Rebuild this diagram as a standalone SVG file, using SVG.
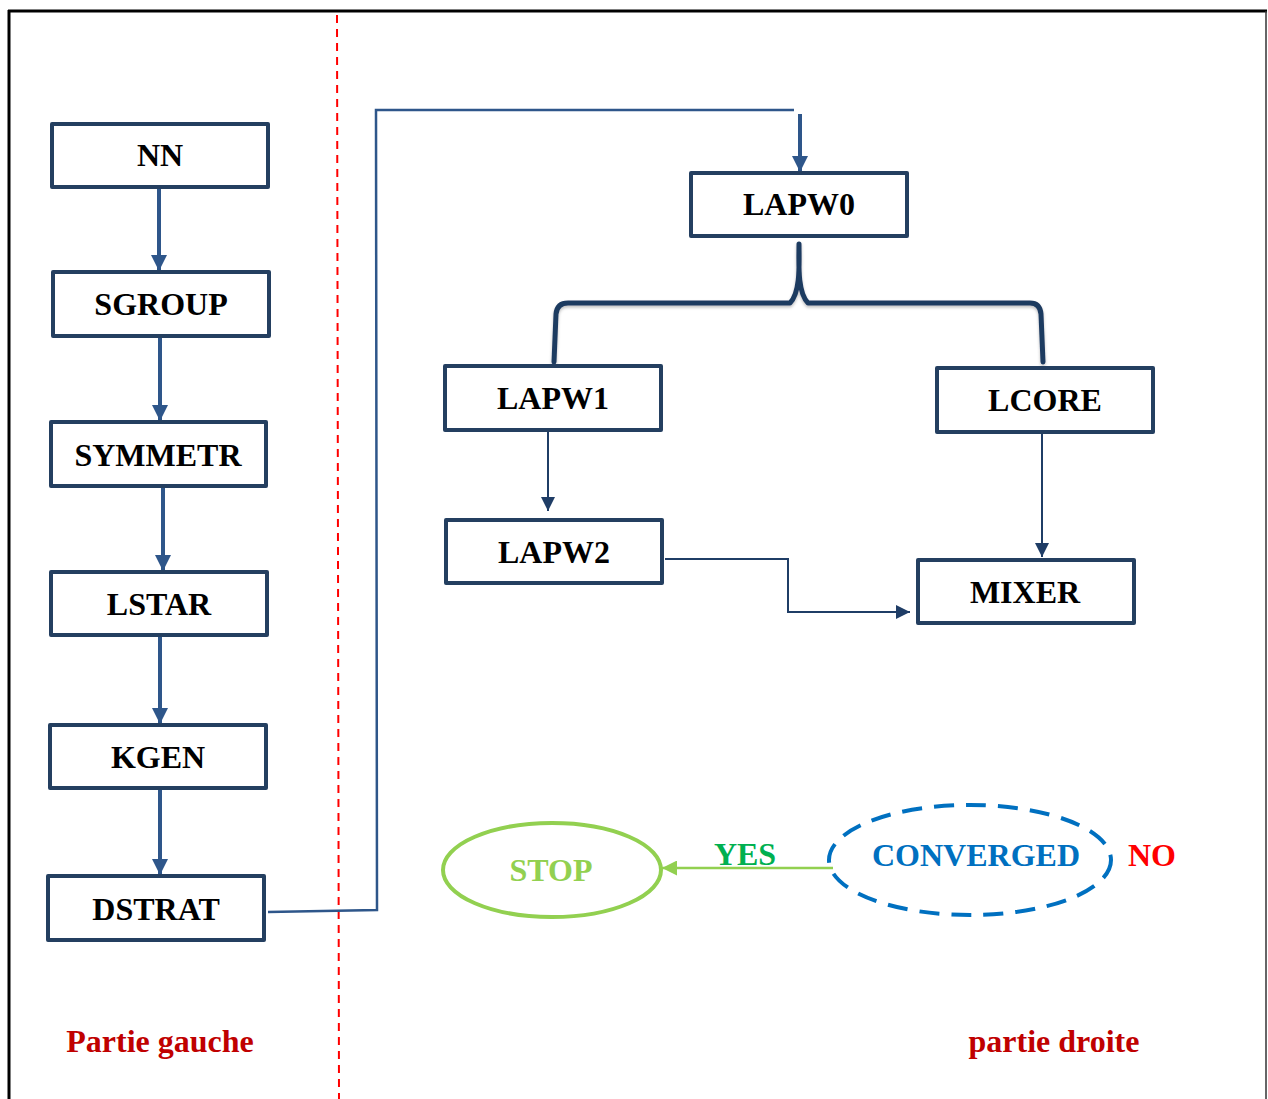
<svg xmlns="http://www.w3.org/2000/svg" width="1268" height="1099" viewBox="0 0 1268 1099">
<style>
.box{fill:#fff;stroke:#243F60;stroke-width:4;stroke-linejoin:round}
.lbl{font-family:"Liberation Serif","Times New Roman",serif;font-weight:bold;font-size:32px;text-anchor:middle;fill:#000}
.thick{stroke:#2E568A;stroke-width:4;fill:none}
.thin{stroke:#1F3D66;stroke-width:2;fill:none}
</style>
<defs>
<marker id="ah" viewBox="0 0 10 10" refX="10" refY="5" markerWidth="4" markerHeight="4" orient="auto" markerUnits="strokeWidth"><path d="M0,0 L10,5 L0,10 z" fill="#2E568A"/></marker>
<marker id="aht" viewBox="0 0 10 10" refX="10" refY="5" markerWidth="7" markerHeight="7" orient="auto" markerUnits="strokeWidth"><path d="M0,0 L10,5 L0,10 z" fill="#1F3D66"/></marker>
<marker id="ahg" viewBox="0 0 10 10" refX="10" refY="5" markerWidth="6" markerHeight="6" orient="auto" markerUnits="strokeWidth"><path d="M0,0 L10,5 L0,10 z" fill="#92D050"/></marker>
<filter id="sh" x="-10%" y="-10%" width="120%" height="140%"><feDropShadow dx="0" dy="2" stdDeviation="1.5" flood-color="#000" flood-opacity="0.25"/></filter>
</defs>
<rect width="1268" height="1099" fill="#fff"/>
<g id="frame">
<line x1="8" y1="11" x2="1267" y2="11" stroke="#000" stroke-width="3"/>
<line x1="9" y1="10" x2="9" y2="1099" stroke="#000" stroke-width="3"/>
<line x1="1266" y1="11" x2="1266" y2="1099" stroke="#333" stroke-width="1.5"/>
<line x1="337" y1="15" x2="339" y2="1099" stroke="#FF0000" stroke-width="2" stroke-dasharray="8,6"/>
</g>
<g id="connectors">
<line class="thick" x1="159" y1="189" x2="159" y2="271" marker-end="url(#ah)"/>
<line class="thick" x1="160" y1="338" x2="160" y2="421" marker-end="url(#ah)"/>
<line class="thick" x1="163" y1="488" x2="163" y2="571" marker-end="url(#ah)"/>
<line class="thick" x1="160" y1="637" x2="160" y2="724" marker-end="url(#ah)"/>
<line class="thick" x1="160" y1="790" x2="160" y2="875" marker-end="url(#ah)"/>
<polyline points="268,912 377,910 376,110 794,110" stroke="#2E568A" stroke-width="2.5" fill="none"/>
<line class="thick" x1="800" y1="114" x2="800" y2="172" marker-end="url(#ah)"/>
<path d="M799,244 C799,262 801,292 790,303 L568,303 Q557,303 556,314 L554,362 M799,244 C799,262 797,292 808,303 L1030,303 Q1040,303 1041,314 L1043,362" stroke="#1F3A60" stroke-width="5" fill="none" stroke-linecap="round" stroke-linejoin="round" filter="url(#sh)"/>
<line class="thin" x1="548" y1="432" x2="548" y2="511" marker-end="url(#aht)"/>
<line class="thin" x1="1042" y1="434" x2="1042" y2="557" marker-end="url(#aht)"/>
<polyline class="thin" points="665,559 788,559 788,612 910,612" marker-end="url(#aht)"/>
<line x1="833" y1="868" x2="662" y2="868" stroke="#92D050" stroke-width="2.5" marker-end="url(#ahg)"/>
</g>
<g id="NN"><rect class="box" x="52" y="124" width="216" height="63"/><text class="lbl" x="160" y="166">NN</text></g>
<g id="SGROUP"><rect class="box" x="53" y="272" width="216" height="64"/><text class="lbl" x="161" y="315">SGROUP</text></g>
<g id="SYMMETR"><rect class="box" x="51" y="422" width="215" height="64"/><text class="lbl" x="158" y="466">SYMMETR</text></g>
<g id="LSTAR"><rect class="box" x="51" y="572" width="216" height="63"/><text class="lbl" x="159" y="615">LSTAR</text></g>
<g id="KGEN"><rect class="box" x="50" y="725" width="216" height="63"/><text class="lbl" x="158" y="768">KGEN</text></g>
<g id="DSTRAT"><rect class="box" x="48" y="876" width="216" height="64"/><text class="lbl" x="156" y="920">DSTRAT</text></g>
<g id="LAPW0"><rect class="box" x="691" y="173" width="216" height="63"/><text class="lbl" x="799" y="215">LAPW0</text></g>
<g id="LAPW1"><rect class="box" x="445" y="366" width="216" height="64"/><text class="lbl" x="553" y="409">LAPW1</text></g>
<g id="LCORE"><rect class="box" x="937" y="368" width="216" height="64"/><text class="lbl" x="1045" y="411">LCORE</text></g>
<g id="LAPW2"><rect class="box" x="446" y="520" width="216" height="63"/><text class="lbl" x="554" y="563">LAPW2</text></g>
<g id="MIXER"><rect class="box" x="918" y="560" width="216" height="63"/><text class="lbl" x="1025" y="603">MIXER</text></g>
<g id="STOP"><ellipse cx="552" cy="870" rx="109" ry="47" fill="#fff" stroke="#92D050" stroke-width="4"/><text class="lbl" x="551" y="881" style="fill:#92D050">STOP</text></g>
<g id="CONVERGED"><ellipse cx="970" cy="860" rx="141" ry="55" fill="none" stroke="#0070C0" stroke-width="4" stroke-dasharray="20,12"/><text class="lbl" x="976" y="866" style="fill:#0070C0">CONVERGED</text></g>
<text class="lbl" x="745" y="865" style="fill:#00B050">YES</text>
<text class="lbl" x="1152" y="866" style="fill:#FF0000">NO</text>
<text class="lbl" x="160" y="1052" style="fill:#C00000">Partie gauche</text>
<text class="lbl" x="1054" y="1052" style="fill:#C00000">partie droite</text>
</svg>
